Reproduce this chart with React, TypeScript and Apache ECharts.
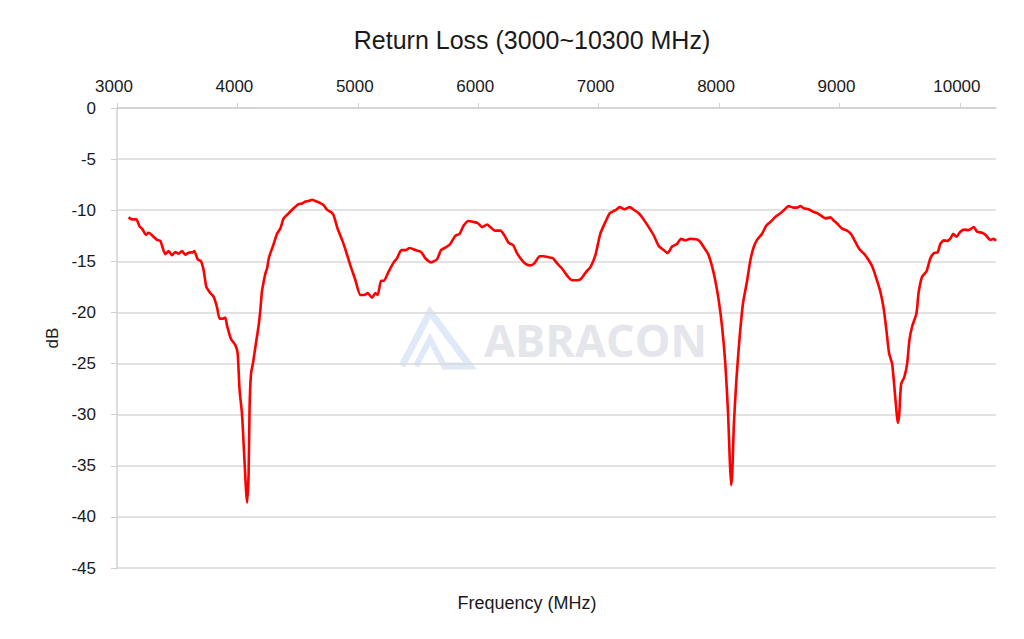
import React, { useEffect, useRef } from "react";
import * as echarts from "echarts";

const titleText = "Return Loss (3000~10300 MHz)";
const xAxisName = "Frequency (MHz)";
const yAxisName = "dB";
const xTicks = [3000, 4000, 5000, 6000, 7000, 8000, 9000, 10000];

const freq = [
  3096, 3125, 3160, 3188, 3208, 3241, 3263, 3304, 3332, 3360, 3401, 3429, 3457, 3484, 3512, 3540, 3567, 3595, 3631, 3642,
  3670, 3698, 3720, 3742, 3775, 3802, 3831, 3852, 3880, 3899, 3914, 3947, 3983, 4002, 4018, 4038, 4057, 4080, 4093, 4101,
  4113, 4130, 4149, 4176, 4190, 4204, 4218, 4232, 4246, 4259, 4268, 4301, 4329, 4356, 4384, 4425, 4467, 4508, 4537, 4564,
  4592, 4620, 4647, 4689, 4716, 4744, 4780, 4799, 4832, 4869, 4896, 4938, 4979, 5021, 5054, 5082, 5118, 5146, 5165, 5193,
  5215, 5256, 5298, 5326, 5361, 5395, 5430, 5478, 5527, 5561, 5608, 5658, 5691, 5735, 5768, 5810, 5846, 5879, 5920, 5962,
  5995, 6032, 6073, 6101, 6137, 6184, 6217, 6253, 6289, 6322, 6364, 6400, 6433, 6466, 6510, 6543, 6585, 6621, 6655, 6696,
  6738, 6779, 6821, 6854, 6898, 6931, 6973, 7014, 7056, 7092, 7139, 7175, 7214, 7258, 7291, 7333, 7374, 7416, 7457, 7499,
  7540, 7573, 7610, 7651, 7684, 7720, 7756, 7811, 7844, 7872, 7900, 7914, 7942, 7969, 7997, 8025, 8052, 8075, 8088, 8100,
  8111, 8122, 8144, 8171, 8199, 8233, 8260, 8288, 8316, 8357, 8393, 8426, 8468, 8509, 8542, 8578, 8620, 8648, 8675, 8703,
  8744, 8781, 8819, 8856, 8883, 8925, 8952, 8980, 9022, 9063, 9097, 9132, 9168, 9207, 9243, 9276, 9307, 9340, 9367, 9390,
  9412, 9437, 9456, 9473, 9484, 9495, 9512, 9539, 9562, 9581, 9603, 9639, 9658, 9686, 9722, 9755, 9783, 9816, 9838, 9866,
  9894, 9921, 9944, 9971, 10004, 10037, 10073, 10115, 10143, 10184, 10212, 10253, 10281, 10300,
];

const returnLoss = [
  -10.7, -10.9, -10.9, -11.6, -11.8, -12.4, -12.2, -12.6, -12.9, -13.0, -14.3, -14.0, -14.4, -14.1, -14.25, -14.0, -14.35, -14.15, -14.1, -14.0,
  -14.8, -15.0, -15.9, -17.5, -18.1, -18.45, -19.5, -20.6, -20.6, -20.5, -21.3, -22.6, -23.2, -24.0, -27.6, -29.9, -34.1, -38.6, -35.8, -29.3,
  -26.0, -24.9, -23.4, -21.3, -19.8, -17.9, -17.0, -16.2, -15.7, -14.8, -14.4, -13.3, -12.3, -11.8, -10.8, -10.3, -9.8, -9.4, -9.35, -9.15,
  -9.1, -8.97, -9.1, -9.3, -9.5, -9.95, -10.2, -10.5, -11.8, -12.9, -13.8, -15.4, -16.8, -18.3, -18.3, -18.1, -18.55, -18.1, -18.3, -16.9,
  -16.9, -16.0, -15.1, -14.7, -13.9, -13.9, -13.7, -13.9, -14.1, -14.7, -15.1, -14.8, -13.9, -13.6, -13.3, -12.5, -12.3, -11.5, -11.05, -11.15,
  -11.25, -11.65, -11.4, -11.65, -12.0, -12.0, -12.45, -13.2, -13.4, -14.2, -14.9, -15.3, -15.4, -15.2, -14.5, -14.5, -14.6, -14.7, -15.2, -15.7,
  -16.4, -16.85, -16.85, -16.7, -16.0, -15.6, -14.4, -12.3, -11.15, -10.3, -10.0, -9.7, -9.9, -9.7, -9.95, -10.3, -10.9, -11.65, -12.45, -13.5,
  -13.9, -14.2, -13.55, -13.3, -12.8, -12.95, -12.8, -12.85, -13.1, -13.6, -14.1, -14.4, -15.5, -16.9, -18.8, -21.4, -25.0, -29.9, -34.1, -36.9,
  -35.4, -31.2, -26.6, -22.4, -19.1, -16.9, -14.9, -13.6, -12.9, -12.3, -11.5, -11.15, -10.65, -10.3, -9.95, -9.6, -9.75, -9.75, -9.6, -9.8,
  -9.9, -10.15, -10.3, -10.6, -10.8, -10.7, -11.0, -11.3, -11.8, -12.0, -12.35, -13.1, -13.85, -14.3, -14.9, -15.6, -16.7, -18.0, -19.6, -21.75,
  -24.0, -25.0, -27.3, -29.6, -30.8, -30.2, -27.0, -26.3, -25.0, -22.7, -21.4, -20.1, -18.0, -16.5, -16.0, -14.7, -14.2, -14.1, -13.3, -12.95,
  -13.0, -12.78, -12.3, -12.6, -12.1, -11.9, -11.95, -11.65, -12.1, -12.2, -12.4, -12.9, -12.8, -13.0,
];

const FONT = "'Liberation Sans', Arial, sans-serif";
const TEXT = "#1a1a1a";

export default function App() {
  const ref = useRef<HTMLDivElement>(null);
  useEffect(() => {
    if (!ref.current) return;
    const chart = echarts.init(ref.current, undefined, { renderer: "svg" });
    const data = freq.map((f, i) => [f, returnLoss[i]]);
    chart.setOption({
      animation: false,
      backgroundColor: "#ffffff",
      textStyle: { fontFamily: FONT },
      grid: { left: 117, right: 28, top: 108, bottom: 71, containLabel: false },
      graphic: [
        {
          type: "text",
          x: 532,
          y: 40,
          style: {
            text: titleText,
            fontSize: 25,
            fontFamily: FONT,
            fill: TEXT,
            textAlign: "center",
            textVerticalAlign: "middle",
          },
        },
        {
          type: "text",
          x: 527,
          y: 603,
          style: {
            text: xAxisName,
            fontSize: 18,
            fontFamily: FONT,
            fill: TEXT,
            textAlign: "center",
            textVerticalAlign: "middle",
          },
        },
        {
          type: "group",
          x: 398,
          y: 308,
          silent: true,
          z: -1,
          children: [
            {
              type: "polyline",
              shape: { points: [[4, 58], [32, 4], [72, 58], [44, 58]] },
              style: { stroke: "#dfe9f8", lineWidth: 7, fill: null, lineJoin: "miter" },
            },
            {
              type: "polyline",
              shape: { points: [[18, 58], [32, 31], [46, 58]] },
              style: { stroke: "#dfe9f8", lineWidth: 6, fill: null, lineJoin: "miter" },
            },
            {
              type: "text",
              x: 86,
              y: 31,
              style: {
                text: "ABRACON",
                fontSize: 45,
                fontWeight: "bold",
                fontFamily: "'Open Sans', Inter, sans-serif",
                fill: "#e4e6ec",
                textVerticalAlign: "middle",
              },
            },
          ],
        },
      ],
      xAxis: {
        type: "value",
        position: "top",
        min: 3000,
        max: 10300,
        interval: 1000,
        axisLine: { show: true, lineStyle: { color: "#d0d0d0", width: 1.5 } },
        axisTick: { show: true, length: 5, customValues: xTicks, lineStyle: { color: "#d0d0d0" } },
        axisLabel: {
          show: true,
          customValues: xTicks,
          fontSize: 17,
          color: TEXT,
          margin: 13,
          padding: [0, 6, 0, 0],
          fontFamily: FONT,
          formatter: (v: number) => String(v),
        },
        splitLine: { show: false },
      },
      yAxis: {
        type: "value",
        min: -45,
        max: 0,
        interval: 5,
        name: yAxisName,
        nameLocation: "middle",
        nameGap: 52,
        nameRotate: 90,
        nameTextStyle: { fontSize: 17, color: TEXT, fontFamily: FONT },
        axisLine: { show: true, lineStyle: { color: "#d0d0d0", width: 1.5 } },
        axisTick: { show: true, length: 6, lineStyle: { color: "#d0d0d0" } },
        axisLabel: {
          fontSize: 17,
          color: TEXT,
          margin: 21,
          fontFamily: FONT,
          formatter: (v: number) => String(v),
        },
        splitLine: { show: true, lineStyle: { color: "#d9d9d9", width: 1.5 } },
      },
      series: [
        {
          type: "line",
          data,
          showSymbol: false,
          symbol: "none",
          smooth: 0.2,
          lineStyle: { color: "#ff0000", width: 2.6 },
          z: 3,
        },
      ],
    });
    return () => chart.dispose();
  }, []);
  return (
    <div
      ref={ref}
      style={{ position: "absolute", left: 0, top: 0, width: 1024, height: 639 }}
    />
  );
}
